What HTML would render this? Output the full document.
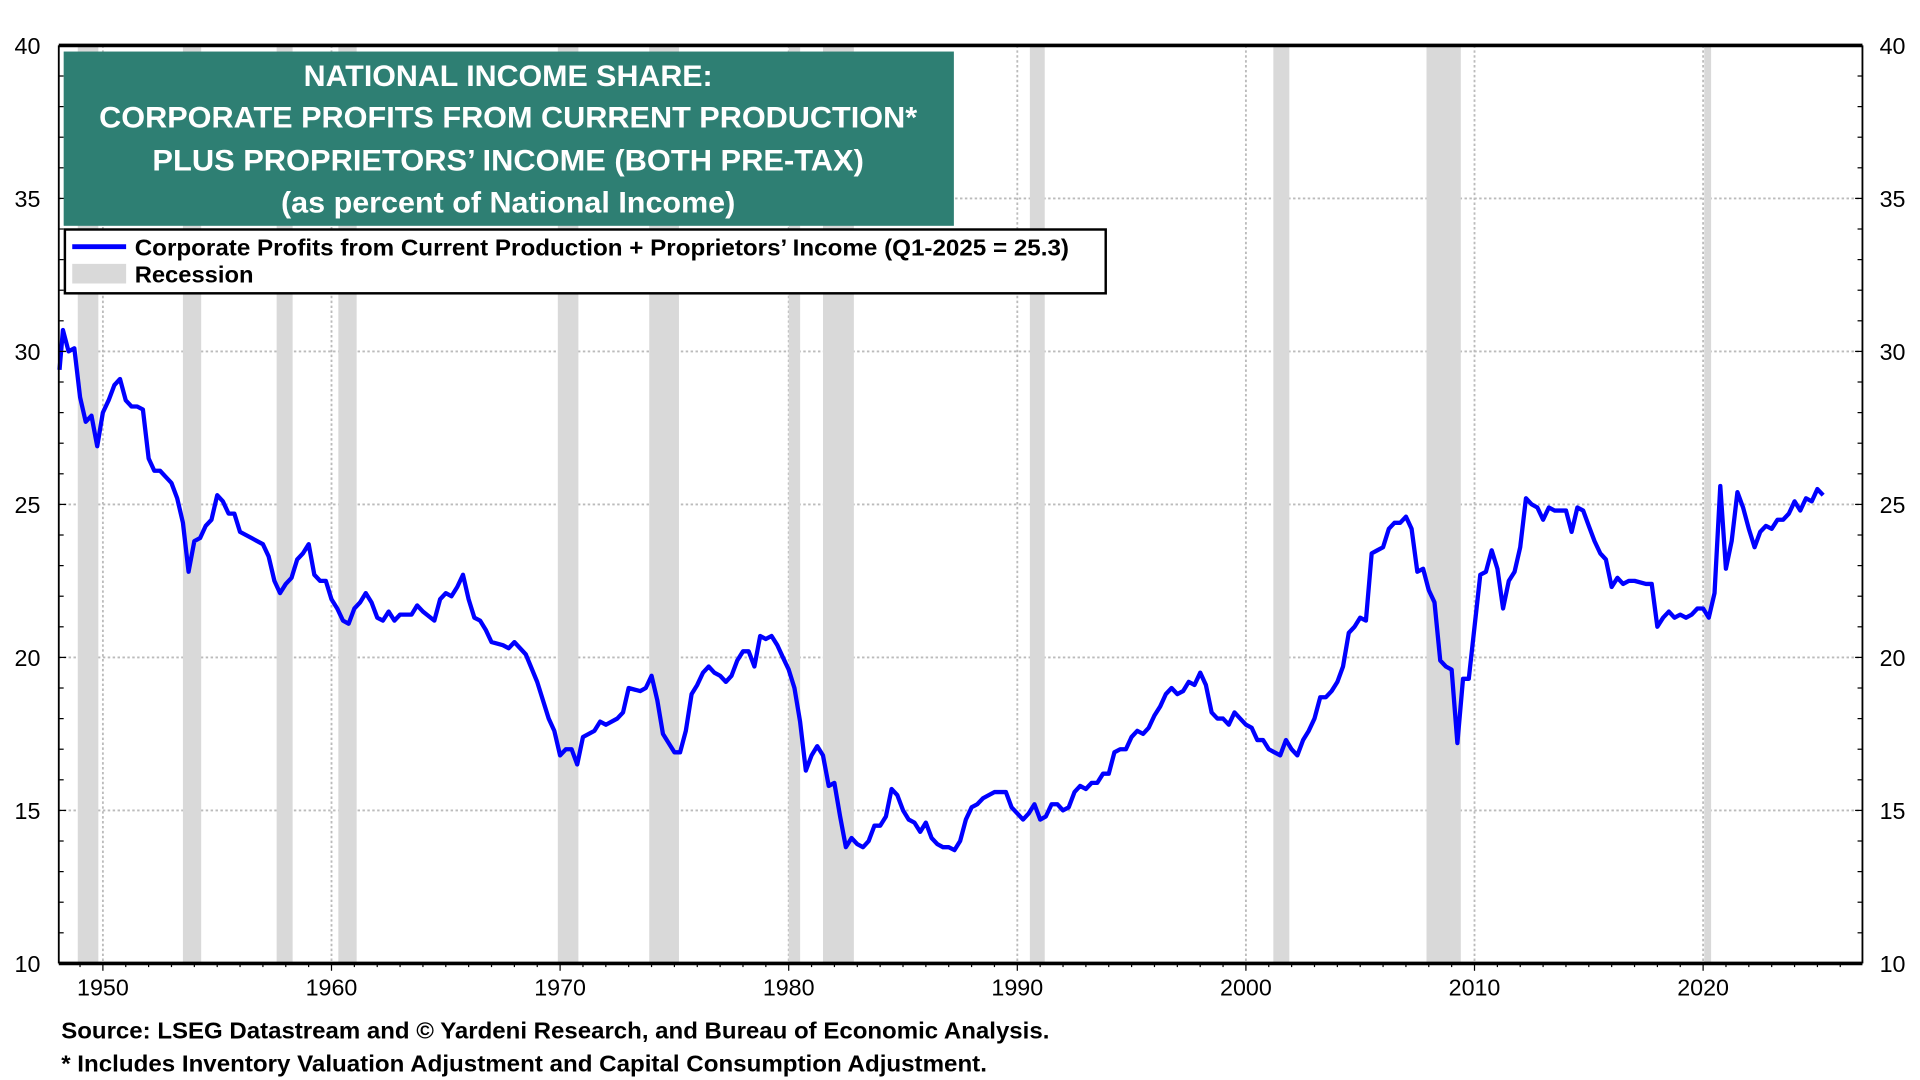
<!DOCTYPE html>
<html><head><meta charset="utf-8"><style>
html,body{margin:0;padding:0;background:#fff;}
svg{display:block;font-family:"Liberation Sans",Arial,sans-serif;}
</style></head><body>
<svg id="chart" width="1920" height="1080" viewBox="0 0 1568 880" preserveAspectRatio="none">
<g id="grid"></g>
<g id="rec"></g>
<g id="line"></g>
<g id="axes"></g>
<g>
<rect x="52" y="42" width="727" height="142" fill="#2e7f73"/>
<g fill="#fff" font-weight="bold" font-size="24" text-anchor="middle" lengthAdjust="spacingAndGlyphs">
<text x="415" y="70" textLength="334" lengthAdjust="spacingAndGlyphs">NATIONAL INCOME SHARE:</text>
<text x="415" y="104" textLength="668" lengthAdjust="spacingAndGlyphs">CORPORATE PROFITS FROM CURRENT PRODUCTION*</text>
<text x="415" y="139" textLength="581" lengthAdjust="spacingAndGlyphs">PLUS PROPRIETORS’ INCOME (BOTH PRE-TAX)</text>
<text x="415" y="173" textLength="371" lengthAdjust="spacingAndGlyphs">(as percent of National Income)</text>
</g></g>
<g>
<rect x="53" y="187" width="850" height="52" fill="#fff" stroke="#000" stroke-width="2"/>
<line x1="59" y1="201" x2="103" y2="201" stroke="#0000ff" stroke-width="4"/>
<rect x="59" y="215" width="44" height="16" fill="#d9d9d9"/>
<text x="110" y="208" font-size="19" font-weight="bold" textLength="763" lengthAdjust="spacingAndGlyphs">Corporate Profits from Current Production + Proprietors’ Income  (Q1-2025 = 25.3)</text>
<text x="110" y="230" font-size="19" font-weight="bold" textLength="97" lengthAdjust="spacingAndGlyphs">Recession</text>
</g>
<text x="50" y="846" font-size="19" font-weight="bold" textLength="807" lengthAdjust="spacingAndGlyphs">Source: LSEG Datastream and © Yardeni Research, and Bureau of Economic Analysis.</text>
<text x="50" y="873" font-size="19" font-weight="bold" textLength="756" lengthAdjust="spacingAndGlyphs">* Includes Inventory Valuation Adjustment and Capital Consumption Adjustment.</text>
</svg>
<script>
const years=[1948.1,1948.25,1948.5,1948.75,1949,1949.25,1949.5,1949.75,1950,1950.25,1950.5,1950.75,1951,1951.25,1951.5,1951.75,1952,1952.25,1952.5,1952.75,1953,1953.25,1953.5,1953.75,1954,1954.25,1954.5,1954.75,1955,1955.25,1955.5,1955.75,1956,1956.5,1957,1957.25,1957.5,1957.75,1958,1958.25,1958.5,1958.75,1959,1959.25,1959.5,1959.75,1960,1960.25,1960.5,1960.75,1961,1961.25,1961.5,1961.75,1962,1962.25,1962.5,1962.75,1963,1963.5,1963.75,1964,1964.5,1964.75,1965,1965.25,1965.5,1965.75,1966,1966.25,1966.5,1966.75,1967,1967.5,1967.75,1968,1968.5,1969,1969.5,1969.75,1970,1970.25,1970.5,1970.75,1971,1971.5,1971.75,1972,1972.5,1972.75,1973,1973.5,1973.75,1974,1974.25,1974.5,1974.75,1975,1975.25,1975.5,1975.75,1976,1976.25,1976.5,1976.75,1977,1977.25,1977.5,1977.75,1978,1978.25,1978.5,1978.75,1979,1979.25,1979.5,1979.75,1980,1980.25,1980.5,1980.75,1981,1981.25,1981.5,1981.75,1982,1982.25,1982.5,1982.75,1983,1983.25,1983.5,1983.75,1984,1984.25,1984.5,1984.75,1985,1985.25,1985.5,1985.75,1986,1986.25,1986.5,1986.75,1987,1987.25,1987.5,1987.75,1988,1988.25,1988.5,1988.75,1989,1989.5,1989.75,1990,1990.25,1990.5,1990.75,1991,1991.25,1991.5,1991.75,1992,1992.25,1992.5,1992.75,1993,1993.25,1993.5,1993.75,1994,1994.25,1994.5,1994.75,1995,1995.25,1995.5,1995.75,1996,1996.25,1996.5,1996.75,1997,1997.25,1997.5,1997.75,1998,1998.25,1998.5,1998.75,1999,1999.25,1999.5,1999.75,2000,2000.25,2000.5,2000.75,2001,2001.25,2001.5,2001.75,2002,2002.25,2002.5,2002.75,2003,2003.25,2003.5,2003.75,2004,2004.25,2004.5,2004.75,2005,2005.25,2005.5,2005.75,2006,2006.25,2006.5,2006.75,2007,2007.25,2007.5,2007.75,2008,2008.25,2008.5,2008.75,2009,2009.25,2009.5,2009.75,2010,2010.25,2010.5,2010.75,2011,2011.25,2011.5,2011.75,2012,2012.25,2012.5,2012.75,2013,2013.25,2013.5,2013.75,2014,2014.25,2014.5,2014.75,2015,2015.25,2015.5,2015.75,2016,2016.25,2016.5,2016.75,2017,2017.5,2017.75,2018,2018.25,2018.5,2018.75,2019,2019.25,2019.5,2019.75,2020,2020.25,2020.5,2020.75,2021,2021.25,2021.5,2021.75,2022,2022.25,2022.5,2022.75,2023,2023.25,2023.5,2023.75,2024,2024.25,2024.5,2024.75,2025,2025.25];
const values=[29.4,30.7,30.0,30.1,28.5,27.7,27.9,26.9,28.0,28.4,28.9,29.1,28.4,28.2,28.2,28.1,26.5,26.1,26.1,25.9,25.7,25.2,24.4,22.8,23.8,23.9,24.3,24.5,25.3,25.1,24.7,24.7,24.1,23.9,23.7,23.3,22.5,22.1,22.4,22.6,23.2,23.4,23.7,22.7,22.5,22.5,21.9,21.6,21.2,21.1,21.6,21.8,22.1,21.8,21.3,21.2,21.5,21.2,21.4,21.4,21.7,21.5,21.2,21.9,22.1,22.0,22.3,22.7,21.9,21.3,21.2,20.9,20.5,20.4,20.3,20.5,20.1,19.2,18.0,17.6,16.8,17.0,17.0,16.5,17.4,17.6,17.9,17.8,18.0,18.2,19.0,18.9,19.0,19.4,18.6,17.5,17.2,16.9,16.9,17.6,18.8,19.1,19.5,19.7,19.5,19.4,19.2,19.4,19.9,20.2,20.2,19.7,20.7,20.6,20.7,20.4,20.0,19.6,19.0,17.9,16.3,16.8,17.1,16.8,15.8,15.9,14.8,13.8,14.1,13.9,13.8,14.0,14.5,14.5,14.8,15.7,15.5,15.0,14.7,14.6,14.3,14.6,14.1,13.9,13.8,13.8,13.7,14.0,14.7,15.1,15.2,15.4,15.5,15.6,15.6,15.1,14.9,14.7,14.9,15.2,14.7,14.8,15.2,15.2,15.0,15.1,15.6,15.8,15.7,15.9,15.9,16.2,16.2,16.9,17.0,17.0,17.4,17.6,17.5,17.7,18.1,18.4,18.8,19.0,18.8,18.9,19.2,19.1,19.5,19.1,18.2,18.0,18.0,17.8,18.2,18.0,17.8,17.7,17.3,17.3,17.0,16.9,16.8,17.3,17.0,16.8,17.3,17.6,18.0,18.7,18.7,18.9,19.2,19.7,20.8,21.0,21.3,21.2,23.4,23.5,23.6,24.2,24.4,24.4,24.6,24.2,22.8,22.9,22.2,21.8,19.9,19.7,19.6,17.2,19.3,19.3,21.0,22.7,22.8,23.5,22.9,21.6,22.5,22.8,23.6,25.2,25.0,24.9,24.5,24.9,24.8,24.8,24.8,24.1,24.9,24.8,24.3,23.8,23.4,23.2,22.3,22.6,22.4,22.5,22.5,22.4,22.4,21.0,21.3,21.5,21.3,21.4,21.3,21.4,21.6,21.6,21.3,22.1,25.6,22.9,23.8,25.4,24.9,24.2,23.6,24.1,24.3,24.2,24.5,24.5,24.7,25.1,24.8,25.2,25.1,25.5,25.3];
const recStart=[1948.9,1953.5,1957.6,1960.3,1969.9,1973.9,1980.0,1981.5,1990.55,2001.2,2007.9,2020.05];
const recEnd=[1949.8,1954.3,1958.3,1961.1,1970.8,1975.2,1980.5,1982.85,1991.2,2001.9,2009.4,2020.35];
const yTicks=[10,15,20,25,30,35,40];
const xTicks=[1950,1960,1970,1980,1990,2000,2010,2020];

const L=48,R=1521,T=37,B=785;
const X0=1948.07,X1=2026.97,Y0=10,Y1=40;
const xs=v=>L+(v-X0)/(X1-X0)*(R-L);
const ys=v=>B-(v-Y0)/(Y1-Y0)*(B-T);
const NS='http://www.w3.org/2000/svg';
function mk(tag,attrs,parent){const e=document.createElementNS(NS,tag);for(const k in attrs)e.setAttribute(k,attrs[k]);parent.appendChild(e);return e;}
const grid=document.getElementById('grid'),rec=document.getElementById('rec'),line=document.getElementById('line'),axes=document.getElementById('axes');

yTicks.forEach(t=>{
  if(t>Y0&&t<Y1){const g=mk('line',{x1:L,x2:R,y1:ys(t),y2:ys(t),stroke:'#bbb','stroke-width':1.5,'stroke-dasharray':'2,2'},grid);
  
  }
  const a=mk('text',{x:33,y:ys(t)+7,'font-size':19,'text-anchor':'end'},axes);a.textContent=t;
  
  
  const b=mk('text',{x:1535,y:ys(t)+7,'font-size':19},axes);b.textContent=t;
  
  
});
xTicks.forEach(t=>{
  const g=mk('line',{x1:xs(t),x2:xs(t),y1:T,y2:B,stroke:'#bbb','stroke-width':1.5,'stroke-dasharray':'2,2'},grid);
  
  
  const a=mk('text',{x:xs(t),y:811,'font-size':19,'text-anchor':'middle'},axes);a.textContent=t;
  
  
});
recStart.forEach((s,i)=>{
  const r=mk('rect',{x:xs(s),y:T,width:xs(recEnd[i])-xs(s),height:B-T,fill:'#d9d9d9'},rec);
  
  
});
const pts=years.map((y,i)=>xs(y).toFixed(1)+','+ys(values[i]).toFixed(1)).join(' ');
const pl=mk('polyline',{points:pts,fill:'none',stroke:'#0000ff','stroke-width':3.5,'stroke-linejoin':'round'},line);



mk('line',{x1:L,x2:R,y1:T,y2:T,stroke:'#000','stroke-width':3},axes);
mk('line',{x1:L,x2:R,y1:B,y2:B,stroke:'#000','stroke-width':3},axes);
mk('line',{x1:L,x2:L,y1:T,y2:B,stroke:'#000','stroke-width':1.5},axes);
mk('line',{x1:R,x2:R,y1:T,y2:B,stroke:'#000','stroke-width':1.5},axes);
for(let v=Y0;v<=Y1;v++){const len=(v%5===0)?6:4;
  mk('line',{x1:L,x2:L+len,y1:ys(v),y2:ys(v),stroke:'#000','stroke-width':1},axes);
  mk('line',{x1:R-len,x2:R,y1:ys(v),y2:ys(v),stroke:'#000','stroke-width':1},axes);}
for(let y=1949;y<=2026;y++){const len=(y%10===0)?6:3;
  mk('line',{x1:xs(y),x2:xs(y),y1:B,y2:B+len,stroke:'#000','stroke-width':1},axes);}
</script>
</body></html>
